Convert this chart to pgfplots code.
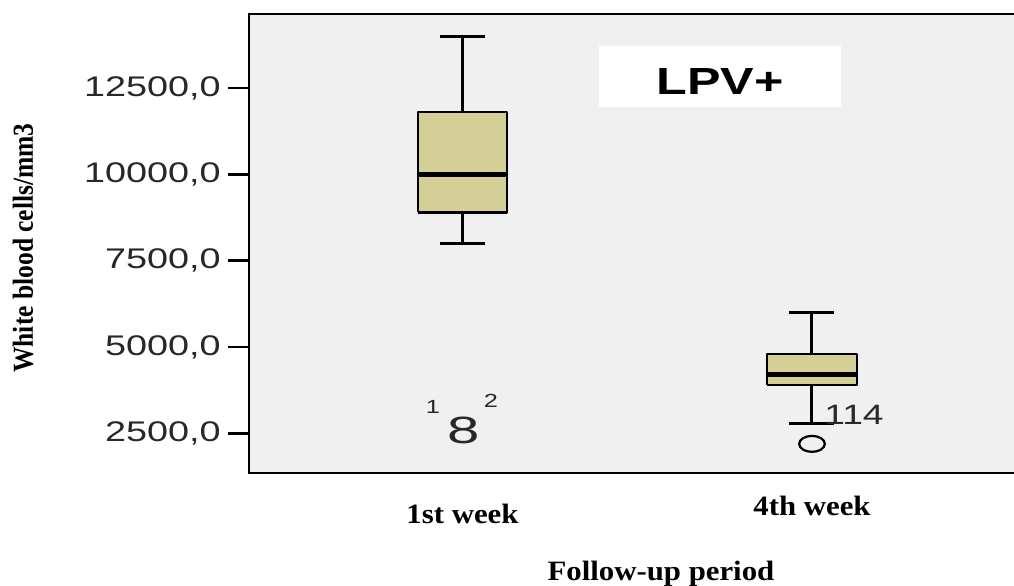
\documentclass[border=0pt]{standalone}
\usepackage{pgfplots}
\pgfplotsset{compat=1.18}
\usepackage{fontspec}
\setmainfont{Liberation Serif}
\newfontfamily\spsssans[FakeStretch=1.33]{Liberation Sans}
\newfontfamily\ylabfont[FakeStretch=0.88]{Liberation Serif}
\newfontfamily\xlabfont[FakeStretch=1.1]{Liberation Serif}
\definecolor{bgfill}{RGB}{240,240,240}
\definecolor{boxfill}{RGB}{211,207,150}
\definecolor{ticktext}{RGB}{40,40,40}
\begin{document}
\begin{tikzpicture}
\begin{axis}[
  scale only axis,
  width=390.5pt, height=229.5pt,
  xmin=249, xmax=1030,
  ymin=1357, ymax=14640,
  enlargelimits=false,
  clip=false,
  axis background/.style={fill=bgfill},
  axis line style={line width=1.3pt, black},
  tick align=outside,
  major tick length=10.5pt,
  minor tick length=2pt,
  ytick={2500,5000,7500,10000,12500},
  yticklabels={{2500,0},{5000,0},{7500,0},{10000,0},{12500,0}},
  yticklabel style={font=\spsssans\fontsize{14.2}{16}\selectfont, text=ticktext, anchor=east, inner sep=0pt, xshift=-3.5pt},
  ytick style={line width=1.3pt, black},
  xtick={462.5},
  xticklabels={1st week},
  extra x ticks={812},
  extra x tick labels={4th week},
  extra x tick style={xticklabel style={yshift=4pt}},
  xticklabel style={font=\xlabfont\bfseries\fontsize{14}{16}\selectfont, anchor=north, inner sep=0pt, yshift=-5pt},
  xtick style={draw=none},
  minor xtick={462.5,812},
  every minor tick/.append style={line width=1.5pt, black},
  every axis y label/.style={at={(axis description cs:-0.2894,0.4902)}, anchor=center, rotate=90},
  ylabel={\ylabfont\bfseries\fontsize{14.5}{16}\selectfont White blood cells/mm3},
  every axis x label/.style={at={(axis description cs:0.5275,-0.22)}, anchor=center},
  xlabel={\xlabfont\bfseries\fontsize{14}{16}\selectfont Follow-up period},
]
% white label box
\fill[white] (axis cs:599,13714) rectangle (axis cs:841,11949);
\node[font=\spsssans\bfseries\fontsize{18.9}{20}\selectfont, inner sep=0pt] at (axis cs:720,12687) {LPV+};

% ---- 1st week: whiskers 8000 / 14000, box 8900-11800, median 10000
\addplot[black, line width=1.5pt] coordinates {(462.5,11800) (462.5,14000)};
\addplot[black, line width=1.5pt] coordinates {(462.5,8000) (462.5,8900)};
\addplot[black, line width=1.5pt] coordinates {(440,14000) (485,14000)};
\addplot[black, line width=1.5pt] coordinates {(440,8000) (485,8000)};
\addplot[fill=boxfill, draw=black, line width=1.3pt, line join=round]
  coordinates {(418,8900) (507,8900) (507,11800) (418,11800) (418,8900)};
\addplot[black, line width=2.5pt] coordinates {(418,10000) (507,10000)};

% ---- 4th week: whiskers 2800 / 6000, box 3900-4800, median 4200
\addplot[black, line width=1.5pt] coordinates {(812,4800) (812,6000)};
\addplot[black, line width=1.5pt] coordinates {(812,2800) (812,3900)};
\addplot[black, line width=1.5pt] coordinates {(789.5,6000) (834.5,6000)};
\addplot[black, line width=1.5pt] coordinates {(789.5,2800) (834.5,2800)};
\addplot[fill=boxfill, draw=black, line width=1.3pt, line join=round]
  coordinates {(767,3900) (857,3900) (857,4800) (767,4800) (767,3900)};
\addplot[black, line width=2.5pt] coordinates {(767,4200) (857,4200)};

% outlier
\addplot[only marks, mark=o, mark size=4pt, mark options={xscale=1.6, line width=1.1pt, draw=black}]
  coordinates {(812,2200)};

% case labels
\node[font=\spsssans\fontsize{14}{16}\selectfont, inner sep=0pt, text=ticktext] at (axis cs:854,3035) {114};
\node[font=\spsssans\fontsize{9.5}{10}\selectfont, inner sep=0pt, text=ticktext] at (axis cs:433,3281) {1};
\node[font=\spsssans\fontsize{19}{20}\selectfont, inner sep=0pt, text=ticktext, xscale=1.15] at (axis cs:463.5,2587) {8};
\node[font=\spsssans\fontsize{9.5}{10}\selectfont, inner sep=0pt, text=ticktext] at (axis cs:491,3455) {2};

\coordinate (bbl) at (axis cs:0,-1913);
\coordinate (btr) at (axis cs:1014,15045);
\end{axis}
\pgfresetboundingbox
\path[use as bounding box] (bbl) rectangle (btr);
\end{tikzpicture}
\end{document}
